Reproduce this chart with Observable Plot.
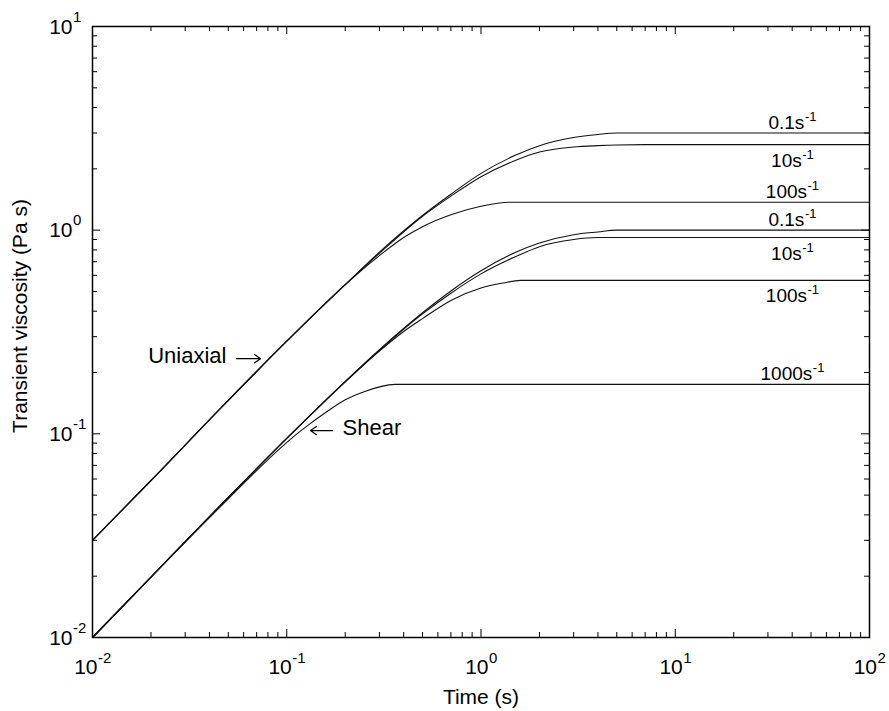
<!DOCTYPE html>
<html><head><meta charset="utf-8">
<script src="https://cdn.jsdelivr.net/npm/d3@7"></script>
<script src="https://cdn.jsdelivr.net/npm/@observablehq/plot@0.6"></script>
<style>body{margin:0;background:#fff} svg{display:block}</style>
</head><body><div id="chart"></div>
<script>
// ---- data ----
const tU01   = [0.01,0.02,0.05,0.1,0.2,0.3,0.5,0.7,1,1.5,2,3,4,5,100];
const etaU01 = [0.03,0.059,0.146,0.285,0.54,0.78,1.18,1.5,1.9,2.33,2.6,2.85,2.95,3.0,3.0];
const tU10   = [0.01,0.02,0.05,0.1,0.2,0.3,0.5,0.7,1,1.5,2,3,4,5,7,100];
const etaU10 = [0.03,0.059,0.146,0.285,0.54,0.77,1.17,1.47,1.83,2.2,2.42,2.56,2.6,2.62,2.63,2.63];
const tU100  = [0.01,0.02,0.05,0.1,0.2,0.3,0.4,0.5,0.7,1,1.4,100];
const etaU100= [0.03,0.059,0.146,0.285,0.54,0.75,0.92,1.04,1.19,1.31,1.37,1.37];
const tS01   = [0.01,0.02,0.05,0.1,0.2,0.3,0.5,0.7,1,1.5,2,3,4,5,100];
const etaS01 = [0.01,0.0198,0.0488,0.095,0.181,0.259,0.393,0.503,0.632,0.777,0.865,0.95,0.98,1.0,1.0];
const tS10   = [0.01,0.02,0.05,0.1,0.2,0.3,0.5,0.7,1,1.5,2,3,4,100];
const etaS10 = [0.01,0.0198,0.0488,0.095,0.18,0.257,0.388,0.49,0.61,0.74,0.83,0.9,0.92,0.92];
const tS100  = [0.01,0.02,0.05,0.1,0.2,0.3,0.4,0.5,0.7,1,1.3,1.6,100];
const etaS100= [0.01,0.0198,0.0488,0.095,0.18,0.255,0.318,0.368,0.452,0.52,0.55,0.567,0.567];
const tS1000 = [0.01,0.02,0.05,0.07,0.09,0.11,0.13,0.16,0.2,0.25,0.3,0.36,100];
const etaS1000=[0.01,0.0198,0.048,0.066,0.083,0.098,0.111,0.128,0.147,0.161,0.17,0.175,0.175];

const curveNames = ["U0.1","U10","U100","S0.1","S10","S100","S1000"];
const curveT     = [tU01,tU10,tU100,tS01,tS10,tS100,tS1000];
const curveEta   = [etaU01,etaU10,etaU100,etaS01,etaS10,etaS100,etaS1000];

const labelMain  = ["0.1s","10s","100s","0.1s","10s","100s","1000s"];
const labelExp   = ["-1","-1","-1","-1","-1","-1","-1"];
const labelEta   = [3.0,2.63,1.37,1.0,0.92,0.567,0.175];
const labelSide  = ["above","below","above","above","below","below","above"];
const labelT     = 40;

const annText   = ["Uniaxial","Shear"];
const annSide   = ["left","right"];
const arrowT1   = [0.0551,0.172];
const arrowT2   = [0.0733,0.1325];
const arrowEta  = [0.234,0.1038];

const xTickExp = [-2,-1,0,1,2];
const yTickExp = [-2,-1,0,1];
const xTitle = "Time (s)";
const yTitle = "Transient viscosity (Pa s)";

// ---- layout ----
const W=889,H=711,mL=92,mR=20,mT=26,mB=74;
const iw=W-mL-mR, ih=H-mT-mB;
const font="'Liberation Sans', Arial, Helvetica, sans-serif";
const ctx=document.createElement("canvas").getContext("2d");
function tw(s,size){ctx.font=`${size}px ${font}`;return ctx.measureText(s).width;}

const rows=[];
curveNames.forEach((n,i)=>curveT[i].forEach((t,j)=>rows.push({curve:n,t,eta:curveEta[i][j]})));

const xMinor=[], yMinor=[];
for(let e=-2;e<2;e++) for(let m=2;m<10;m++) xMinor.push(m*10**e);
for(let e=-2;e<1;e++) for(let m=2;m<10;m++) yMinor.push(m*10**e);
const xMajor=xTickExp.map(e=>10**e), yMajor=yTickExp.map(e=>10**e);

const marks=[];
// ticks (inside, all four sides)
marks.push(Plot.tickX(xMinor,{x:d=>d,insetTop:ih-5,stroke:"black"}));
marks.push(Plot.tickX(xMinor,{x:d=>d,insetBottom:ih-5,stroke:"black"}));
marks.push(Plot.tickX(xMajor,{x:d=>d,insetTop:ih-8,stroke:"black"}));
marks.push(Plot.tickX(xMajor,{x:d=>d,insetBottom:ih-8,stroke:"black"}));
marks.push(Plot.tickY(yMinor,{y:d=>d,insetRight:iw-5,stroke:"black"}));
marks.push(Plot.tickY(yMinor,{y:d=>d,insetLeft:iw-5,stroke:"black"}));
marks.push(Plot.tickY(yMajor,{y:d=>d,insetRight:iw-8,stroke:"black"}));
marks.push(Plot.tickY(yMajor,{y:d=>d,insetLeft:iw-8,stroke:"black"}));

// curves
marks.push(Plot.line(rows,{x:"t",y:"eta",z:"curve",curve:"monotone-x",stroke:"#111",strokeWidth:1.1}));

// x tick labels
xTickExp.forEach(e=>{
  const v=10**e, s=String(e);
  const dx=(tw("10",21)-tw(s,15))/2;
  marks.push(Plot.text([v],{x:d=>d,frameAnchor:"bottom",text:()=>"10",textAnchor:"end",lineAnchor:"bottom",dx,dy:36,fontSize:21,fill:"black"}));
  marks.push(Plot.text([v],{x:d=>d,frameAnchor:"bottom",text:()=>s,textAnchor:"start",lineAnchor:"bottom",dx:dx+0.5,dy:25,fontSize:15,fill:"black"}));
});
// y tick labels
yTickExp.forEach(e=>{
  const v=10**e, s=String(e);
  marks.push(Plot.text([v],{y:d=>d,frameAnchor:"left",text:()=>"10",textAnchor:"end",lineAnchor:"bottom",dx:-20,dy:7,fontSize:21,fill:"black"}));
  marks.push(Plot.text([v],{y:d=>d,frameAnchor:"left",text:()=>s,textAnchor:"start",lineAnchor:"bottom",dx:-19.5,dy:-5,fontSize:15,fill:"black"}));
});
// curve labels
labelMain.forEach((m,i)=>{
  const ex=labelExp[i];
  const dx=(tw(m,19)-tw(ex,13))/2;
  const dy=labelSide[i]==="above"?-4:22;
  const d=[{t:labelT,eta:labelEta[i]}];
  marks.push(Plot.text(d,{x:"t",y:"eta",text:()=>m,textAnchor:"end",lineAnchor:"bottom",dx,dy,fontSize:19,fill:"black"}));
  marks.push(Plot.text(d,{x:"t",y:"eta",text:()=>ex,textAnchor:"start",lineAnchor:"bottom",dx:dx+0.5,dy:dy-8,fontSize:13,fill:"black"}));
});
// annotation arrows and text
const arrows=annText.map((s,i)=>({t1:arrowT1[i],t2:arrowT2[i],eta:arrowEta[i],text:s,side:annSide[i]}));
marks.push(Plot.arrow(arrows,{x1:"t1",x2:"t2",y1:"eta",y2:"eta",stroke:"black",strokeWidth:1.2,headLength:9,headAngle:70}));
arrows.forEach(a=>{
  const left=a.side==="left";
  marks.push(Plot.text([a],{x:"t1",y:"eta",text:"text",textAnchor:left?"end":"start",lineAnchor:"bottom",dx:left?-10:10,dy:4,fontSize:22,fill:"black"}));
});
// axis titles
marks.push(Plot.text([xTitle],{frameAnchor:"bottom",textAnchor:"middle",lineAnchor:"bottom",dy:66,fontSize:21,fill:"black"}));
marks.push(Plot.text([yTitle],{frameAnchor:"left",textAnchor:"middle",rotate:-90,lineAnchor:"bottom",dx:-66,dy:-16,fontSize:21,fill:"black"}));
// frame
marks.push(Plot.frame({stroke:"black",strokeWidth:1.5}));

const chart=Plot.plot({
  width:W,height:H,marginLeft:mL,marginRight:mR,marginTop:mT,marginBottom:mB,
  x:{type:"log",domain:[0.01,100],axis:null},
  y:{type:"log",domain:[0.01,10],axis:null},
  style:{fontFamily:font,background:"white",color:"black"},
  marks
});
document.getElementById("chart").appendChild(chart);
</script>
</body></html>
